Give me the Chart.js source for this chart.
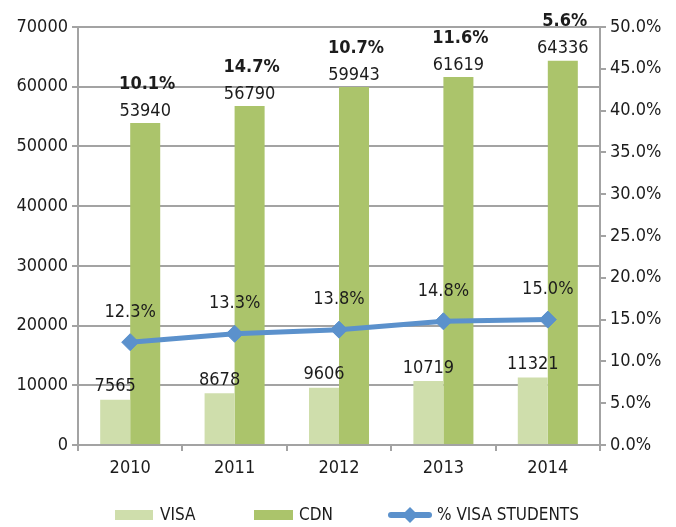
<!DOCTYPE html>
<html><head><meta charset="utf-8">
<script src="https://cdn.jsdelivr.net/npm/chart.js@4.4.1/dist/chart.umd.min.js"></script>
<style>html,body{margin:0;padding:0;background:#fff}#wrap{width:676px;height:527px}</style>
</head><body><div id="wrap"><canvas id="c" width="676" height="527"></canvas></div>
<script>
const years = ['2010', '2011', '2012', '2013', '2014'];
const visaStudents = [7565, 8678, 9606, 10719, 11321];
const cdnStudents = [53940, 56790, 59943, 61619, 64336];
const visaPercent = [12.3, 13.3, 13.8, 14.8, 15.0];
const growthLabels = ['10.1%', '14.7%', '10.7%', '11.6%', '5.6%'];
const legendNames = ['VISA', 'CDN', '% VISA STUDENTS'];

const FONT = "'DejaVu Sans Condensed', 'Liberation Sans Narrow', sans-serif";
const TXT = '#1c1c1c';
const GRID = '#a3a3a3';
const C_VISA = '#cfdeac';
const C_CDN = '#abc46b';
const C_LINE = '#5b91cc';
const FS = 18;

const labelPlugin = {
  id: 'valueLabels',
  afterDatasetsDraw(chart) {
    const ctx = chart.ctx;
    ctx.save();
    ctx.fillStyle = TXT;
    ctx.textAlign = 'center';
    ctx.textBaseline = 'middle';
    const mVisa = chart.getDatasetMeta(0);
    const mCdn = chart.getDatasetMeta(1);
    const mLine = chart.getDatasetMeta(2);
    ctx.font = FS + 'px ' + FONT;
    mVisa.data.forEach((el, i) => ctx.fillText(String(visaStudents[i]), el.x, el.y - 13));
    mCdn.data.forEach((el, i) => ctx.fillText(String(cdnStudents[i]), el.x, el.y - 12));
    mLine.data.forEach((el, i) => ctx.fillText(visaPercent[i].toFixed(1) + '%', el.x, el.y - 30));
    ctx.font = 'bold ' + FS + 'px ' + FONT;
    mCdn.data.forEach((el, i) => ctx.fillText(growthLabels[i], el.x + 2, el.y - 39));
    ctx.restore();
  }
};

const legendPlugin = {
  id: 'customLegend',
  afterDraw(chart) {
    const ctx = chart.ctx;
    const ds = chart.data.datasets;
    const y = 515;
    ctx.save();
    ctx.font = '17px ' + FONT;
    ctx.textBaseline = 'middle';
    ctx.textAlign = 'left';
    ctx.fillStyle = ds[0].backgroundColor;
    ctx.fillRect(115, y - 5, 38, 10);
    ctx.fillStyle = TXT;
    ctx.fillText(ds[0].label, 160, y + 1);
    ctx.fillStyle = ds[1].backgroundColor;
    ctx.fillRect(254, y - 5, 39, 10);
    ctx.fillStyle = TXT;
    ctx.fillText(ds[1].label, 299, y + 1);
    ctx.strokeStyle = ds[2].borderColor;
    ctx.lineWidth = 6;
    ctx.lineCap = 'round';
    ctx.beginPath(); ctx.moveTo(391, y); ctx.lineTo(429, y); ctx.stroke();
    ctx.fillStyle = ds[2].borderColor;
    ctx.beginPath();
    ctx.moveTo(410, y - 8); ctx.lineTo(418, y); ctx.lineTo(410, y + 8); ctx.lineTo(402, y); ctx.closePath(); ctx.fill();
    ctx.fillStyle = TXT;
    ctx.fillText(ds[2].label, 437, y + 1);
    ctx.restore();
  }
};

new Chart(document.getElementById('c'), {
  data: {
    labels: years,
    datasets: [
      { type: 'bar', label: legendNames[0], data: visaStudents, backgroundColor: C_VISA, yAxisID: 'y', order: 1,
        categoryPercentage: 0.575, barPercentage: 1.0 },
      { type: 'bar', label: legendNames[1], data: cdnStudents, backgroundColor: C_CDN, yAxisID: 'y', order: 2,
        categoryPercentage: 0.575, barPercentage: 1.0 },
      { type: 'line', label: legendNames[2], data: visaPercent, borderColor: C_LINE, backgroundColor: C_LINE,
        borderWidth: 5, pointStyle: 'rectRot', pointRadius: 8.5, pointHoverRadius: 8.5, pointBackgroundColor: C_LINE,
        pointBorderColor: C_LINE, pointBorderWidth: 1, yAxisID: 'y1', order: 0, tension: 0 }
    ]
  },
  options: {
    responsive: false,
    devicePixelRatio: 1,
    animation: false,
    events: [],
    layout: { padding: { top: 27, bottom: 42, left: 0, right: 0 } },
    plugins: { legend: { display: false }, tooltip: { enabled: false }, title: { display: false } },
    scales: {
      x: {
        offset: true,
        grid: { offset: true, drawOnChartArea: false, color: GRID, lineWidth: 2, tickLength: 6 },
        border: { color: GRID, width: 2 },
        ticks: { color: TXT, font: { family: FONT, size: FS }, padding: 7, maxRotation: 0 },
        afterFit(s) { s.height = 40; }
      },
      y: {
        position: 'left',
        min: 0, max: 70000,
        ticks: { stepSize: 10000, color: TXT, font: { family: FONT, size: FS }, padding: 4,
                 callback: v => String(v) },
        grid: { color: GRID, lineWidth: 2, tickLength: 6 },
        border: { color: GRID, width: 2 },
        afterFit(s) { s.width = 78; }
      },
      y1: {
        position: 'right',
        min: 0, max: 50,
        ticks: { stepSize: 5, color: TXT, font: { family: FONT, size: FS }, padding: 4,
                 callback: v => Number(v).toFixed(1) + '%' },
        grid: { drawOnChartArea: false, color: GRID, lineWidth: 2, tickLength: 6 },
        border: { color: GRID, width: 2 },
        afterFit(s) { s.width = 76; }
      }
    }
  },
  plugins: [labelPlugin, legendPlugin]
});
</script>
</body></html>
